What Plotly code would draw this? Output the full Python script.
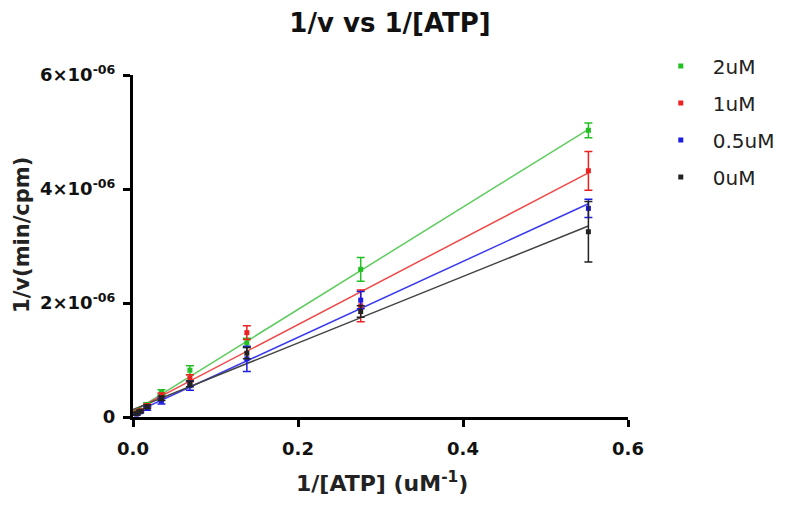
import numpy as np
import plotly.graph_objects as go

# 1/[ATP] (uM^-1)
inv_atp = [0.552, 0.276, 0.138, 0.069, 0.0345, 0.0172, 0.0086, 0.0043]

series_names = ["2uM", "1uM", "0.5uM", "0uM"]
series_colors = ["#22c022", "#ee2020", "#1c1ce0", "#222222"]
line_colors = ["#5fcc5f", "#f04848", "#3a3af0", "#444444"]

# 1/v (x1e-6 min/cpm)
inv_v_2uM = [5.03, 2.59, 1.30, 0.82, 0.44, 0.22, 0.12, 0.08]
err_2uM = [0.13, 0.21, 0.08, 0.08, 0.04, 0.03, 0.02, 0.02]
inv_v_1uM = [4.32, 1.95, 1.48, 0.68, 0.38, 0.20, 0.11, 0.07]
err_1uM = [0.34, 0.28, 0.12, 0.06, 0.04, 0.03, 0.02, 0.02]
inv_v_05uM = [3.66, 2.05, 1.02, 0.55, 0.28, 0.15, 0.09, 0.05]
err_05uM = [0.16, 0.15, 0.22, 0.08, 0.05, 0.03, 0.02, 0.02]
inv_v_0uM = [3.25, 1.85, 1.12, 0.58, 0.33, 0.18, 0.10, 0.06]
err_0uM = [0.53, 0.10, 0.10, 0.05, 0.04, 0.03, 0.02, 0.02]

values = [inv_v_2uM, inv_v_1uM, inv_v_05uM, inv_v_0uM]
errors = [err_2uM, err_1uM, err_05uM, err_0uM]

y_tick_vals = [0, 2e-6, 4e-6, 6e-6]
y_tick_text = ["0", "2×10<sup>-06</sup>", "4×10<sup>-06</sup>", "6×10<sup>-06</sup>"]
x_tick_vals = [0.0, 0.2, 0.4, 0.6]
x_tick_text = ["0.0", "0.2", "0.4", "0.6"]

FONT = "DejaVu Sans, Verdana, sans-serif"

fig = go.Figure()
x = np.array(inv_atp)
# fitted lines (linear regression of each series)
for name, vals, lc in zip(series_names, values, line_colors):
    y = np.array(vals) * 1e-6
    slope, icpt = np.polyfit(x, y, 1)
    xf = np.array([0.0, x.max()])
    fig.add_trace(go.Scatter(x=xf, y=slope * xf + icpt, mode="lines",
                             line=dict(color=lc, width=1.5), showlegend=False,
                             hoverinfo="skip"))
for i, (name, vals, errs, c) in enumerate(zip(series_names, values, errors, series_colors)):
    fig.add_trace(go.Scatter(
        x=inv_atp, y=[v * 1e-6 for v in vals], mode="markers", name=name,
        legendgroup="g%d" % i,
        marker=dict(color=c, size=5, symbol="square"),
        error_y=dict(type="data", array=[e * 1e-6 for e in errs], color=c,
                     thickness=1.5, width=4),
    ))

tick_font = dict(family=FONT, size=18, color="#111111")
title_font = dict(family=FONT, size=22, color="#222222")
fig.update_layout(
    width=800, height=519,
    margin=dict(l=125, r=180, t=67, b=110),
    plot_bgcolor="white", paper_bgcolor="white",
    title=dict(text="<b>1/v vs 1/[ATP]</b>", x=0.4775, xanchor="center", y=0.971,
               yanchor="middle",
               font=dict(family=FONT, size=26, color="#111111")),
    xaxis=dict(range=[0, 0.6], tickvals=x_tick_vals, ticktext=["<b>%s</b>" % t for t in x_tick_text],
               showline=True, linewidth=3, linecolor="black", ticks="outside",
               ticklen=7, tickwidth=3, tickcolor="black", showgrid=False, zeroline=False,
               tickfont=tick_font, ticklabelstandoff=6),
    yaxis=dict(range=[0, 6e-6], tickvals=y_tick_vals, ticktext=["<b>%s</b>" % t for t in y_tick_text],
               showline=True, linewidth=3, linecolor="black", ticks="outside",
               ticklen=7, tickwidth=3, tickcolor="black", showgrid=False, zeroline=False,
               tickfont=tick_font, ticklabelstandoff=4),
    annotations=[
        dict(text="<b>1/[ATP] (uM<sup>-1</sup>)</b>", xref="paper", yref="paper",
             x=0.503, y=-0.19, xanchor="center", yanchor="middle", showarrow=False,
             font=title_font),
        dict(text="<b>1/v(min/cpm)</b>", xref="paper", yref="paper",
             x=-0.2245, y=0.532, xanchor="center", yanchor="middle", showarrow=False,
             textangle=-90, font=dict(family=FONT, size=21, color="#222222")),
    ],
    legend=dict(x=1.042, xanchor="left", y=1.083, yanchor="top", itemwidth=54,
                font=dict(family=FONT, size=20, color="#222222"),
                bgcolor="rgba(0,0,0,0)", tracegroupgap=8),
    showlegend=True,
)
fig.write_html("out.html")
